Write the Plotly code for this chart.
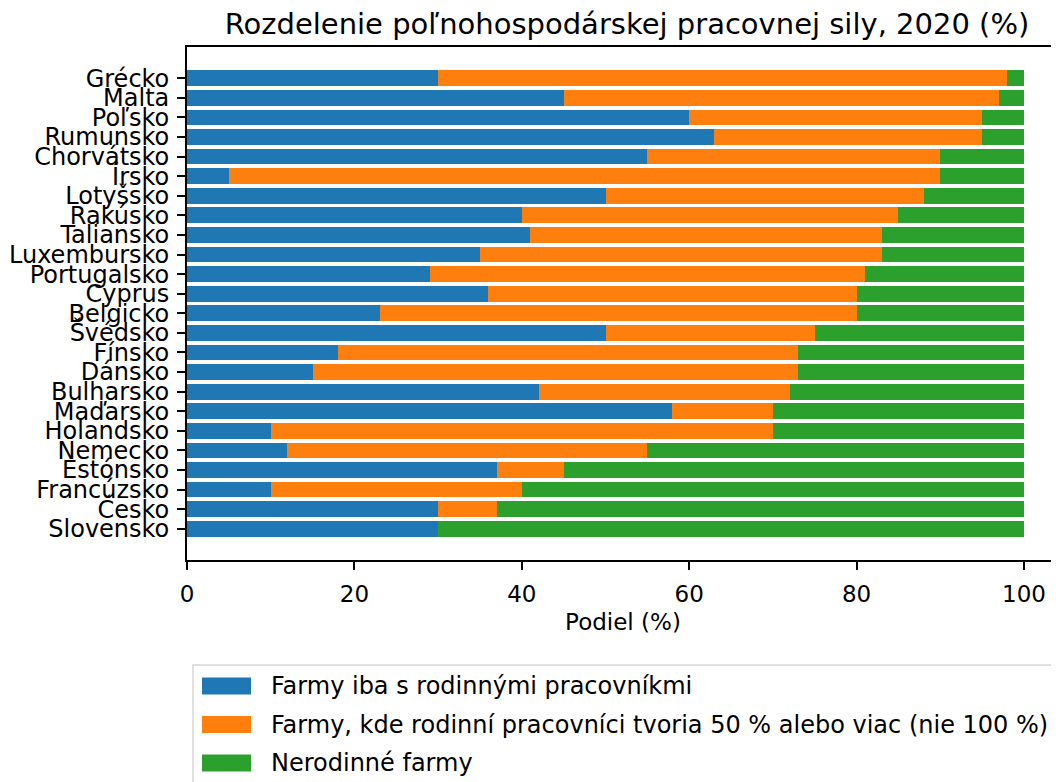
import plotly.graph_objects as go

countries = ["Grécko", "Malta", "Poľsko", "Rumunsko", "Chorvátsko", "Írsko",
             "Lotyšsko", "Rakúsko", "Taliansko", "Luxembursko", "Portugalsko",
             "Cyprus", "Belgicko", "Švédsko", "Fínsko", "Dánsko", "Bulharsko",
             "Maďarsko", "Holandsko", "Nemecko", "Estónsko", "Francúzsko",
             "Česko", "Slovensko"]

family_only = [30, 45, 60, 63, 55, 5, 50, 40, 41, 35, 29, 36, 23, 50, 18, 15,
               42, 58, 10, 12, 37, 10, 30, 30]
family_majority = [68, 52, 35, 32, 35, 85, 38, 45, 42, 48, 52, 44, 57, 25, 55,
                   58, 30, 12, 60, 43, 8, 30, 7, 0]
non_family = [2, 3, 5, 5, 10, 10, 12, 15, 17, 17, 19, 20, 20, 25, 27, 27, 28,
              30, 30, 45, 55, 60, 63, 70]

series_names = ["Farmy iba s rodinnými pracovníkmi",
                "Farmy, kde rodinní pracovníci tvoria 50 % alebo viac (nie 100 %)",
                "Nerodinné farmy"]
colors = ["#1f77b4", "#ff7f0e", "#2ca02c"]

FONT = "DejaVu Sans"
OFF = 8  # page body margin shifts the figure by 8px
W, H = 1059 - OFF, 782 - OFF
L, R, T, B = 187 - OFF, 0, 47 - OFF, 222
PW, PH = W - L - R, H - T - B


def px(x):
    # reference pixel -> paper x
    return (x - OFF - L) / PW


def py(y):
    # reference pixel -> paper y
    return (H - B - (y - OFF)) / PH


fig = go.Figure()
for name, vals, col in zip(series_names,
                           [family_only, family_majority, non_family], colors):
    fig.add_trace(go.Bar(
        y=countries, x=vals, name=name, orientation="h",
        marker=dict(color=col, line=dict(width=0)),
        width=0.8, showlegend=False
    ))

# legend drawn by hand (matplotlib-like wide patches)
shapes = [dict(type="rect", xref="paper", yref="paper",
               x0=px(193), x1=px(1080), y0=py(665), y1=py(800),
               line=dict(color="#d6d6d6", width=1.5), fillcolor="white",
               layer="below")]
annotations = []
for i, (name, col) in enumerate(zip(series_names, colors)):
    yc = 686 + i * 38.5
    shapes.append(dict(type="rect", xref="paper", yref="paper",
                       x0=px(202), x1=px(251), y0=py(yc - 8.5), y1=py(yc + 8.5),
                       line=dict(width=0), fillcolor=col))
    annotations.append(dict(text=name, xref="paper", yref="paper",
                            x=px(269), y=py(yc), xanchor="left",
                            yanchor="middle", showarrow=False,
                            font=dict(size=24)))

n = len(countries)
fig.update_layout(
    barmode="stack",
    width=W, height=H,
    margin=dict(l=L, r=R, t=T, b=B, autoexpand=False),
    paper_bgcolor="white", plot_bgcolor="white",
    font=dict(family=FONT, size=23, color="black"),
    showlegend=False,
    title=dict(text="Rozdelenie poľnohospodárskej pracovnej sily, 2020 (%)",
               font=dict(size=29), x=(627 - OFF) / W, xanchor="center",
               xref="container", y=1 - (24 - OFF) / H, yanchor="middle"),
    xaxis=dict(range=[0, PW / 8.37], tickvals=[0, 20, 40, 60, 80, 100],
               showgrid=False, zeroline=False, showline=True, linecolor="black",
               linewidth=1.8, mirror=True, ticks="outside", ticklen=8,
               tickwidth=1.8, tickcolor="black", ticklabelstandoff=4,
               tickfont=dict(size=23),
               title=dict(text="Podiel (%)", standoff=8, font=dict(size=23))),
    yaxis=dict(type="category", range=[n - 1 + 1.59, -1.59], showgrid=False,
               zeroline=False, showline=True, linecolor="black", linewidth=1.8,
               ticks="outside", ticklen=8, tickwidth=1.8, tickcolor="black",
               tickmode="array", tickvals=countries, ticktext=countries,
               tickfont=dict(size=24), ticklabelstandoff=3),
    shapes=shapes,
    annotations=annotations,
)

fig.write_html("out.html")
